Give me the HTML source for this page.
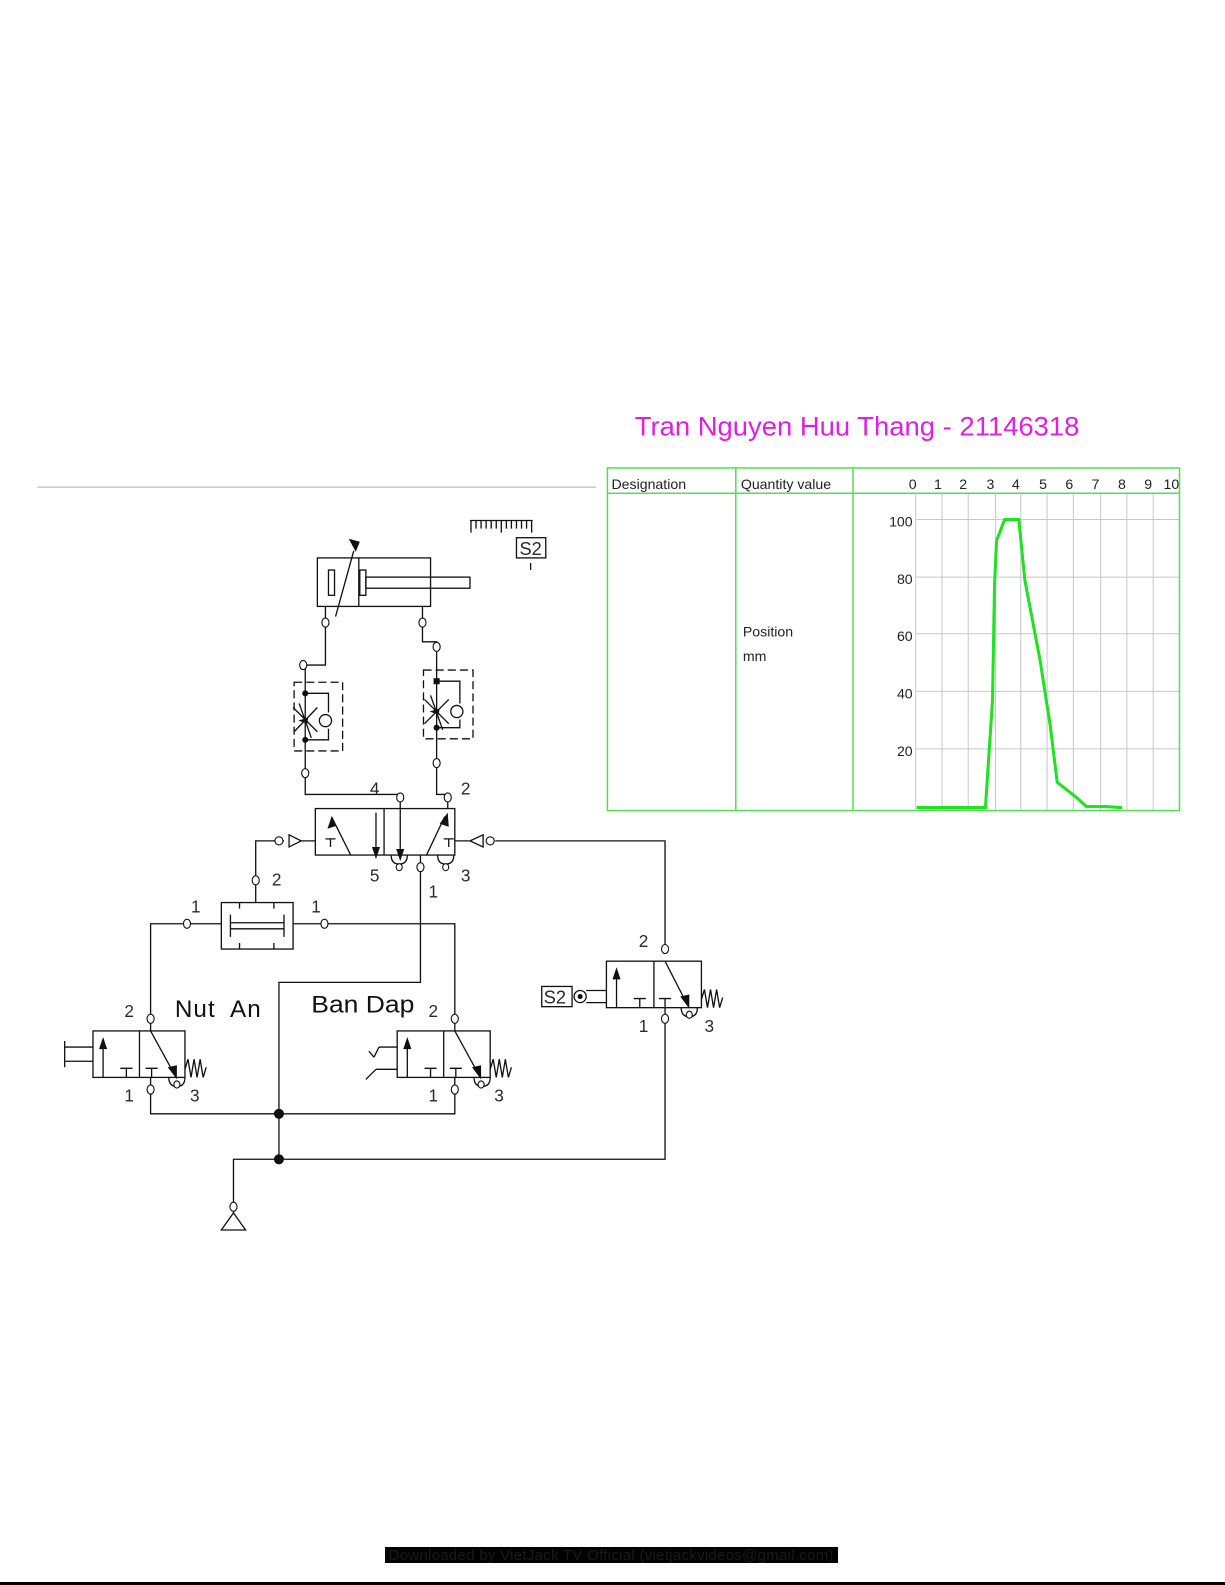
<!DOCTYPE html>
<html><head><meta charset="utf-8"><style>
html,body{margin:0;padding:0;background:#fff;}
svg{display:block;}
text{font-family:"Liberation Sans",Arial,sans-serif;}
</style></head><body>
<svg width="1225" height="1585" viewBox="0 0 1225 1585" xmlns="http://www.w3.org/2000/svg">
<rect width="1225" height="1585" fill="#fff"/>
<g transform="scale(1.0107)">
<line x1="37" y1="482" x2="590" y2="482" stroke="#aaa" stroke-width="1"/>
<text x="628" y="431" font-size="27" fill="#e020e0" textLength="440" lengthAdjust="spacingAndGlyphs">Tran Nguyen Huu Thang - 21146318</text>

<g stroke="#c8c8c8" stroke-width="1">
<line x1="906" y1="488" x2="906" y2="802"/><line x1="932" y1="488" x2="932" y2="802"/><line x1="958" y1="488" x2="958" y2="802"/><line x1="985" y1="488" x2="985" y2="802"/><line x1="1010" y1="488" x2="1010" y2="802"/><line x1="1036" y1="488" x2="1036" y2="802"/><line x1="1062" y1="488" x2="1062" y2="802"/><line x1="1089" y1="488" x2="1089" y2="802"/><line x1="1115" y1="488" x2="1115" y2="802"/><line x1="1141" y1="488" x2="1141" y2="802"/>
<line x1="906" y1="514" x2="1167" y2="514"/><line x1="906" y1="571" x2="1167" y2="571"/><line x1="906" y1="627" x2="1167" y2="627"/><line x1="906" y1="684" x2="1167" y2="684"/><line x1="906" y1="741" x2="1167" y2="741"/>
</g>
<g stroke="#55dd55" stroke-width="1.5" fill="none">
<rect x="601" y="463" width="566" height="339"/>
<line x1="601" y1="488" x2="1167" y2="488"/>
<line x1="728" y1="463" x2="728" y2="802"/>
<line x1="844" y1="463" x2="844" y2="802"/>
</g>
<g font-size="14" fill="#222">
<text x="605" y="484">Designation</text>
<text x="733" y="484">Quantity value</text>
<text x="735" y="630">Position</text>
<text x="735" y="654">mm</text>
</g>
<g font-size="14" fill="#222" text-anchor="middle">
<text x="903" y="484">0</text><text x="928" y="484">1</text><text x="953" y="484">2</text><text x="980" y="484">3</text><text x="1005" y="484">4</text><text x="1032" y="484">5</text><text x="1058" y="484">6</text><text x="1084" y="484">7</text><text x="1110" y="484">8</text><text x="1136" y="484">9</text><text x="1159" y="484">10</text>
</g>
<g font-size="14" fill="#222" text-anchor="end">
<text x="903" y="521">100</text><text x="903" y="578">80</text><text x="903" y="634">60</text><text x="903" y="691">40</text><text x="903" y="748">20</text>
</g>
<polyline points="907,799 975,799 982,693 984,579 986,535 994,514 1008,514 1014,574 1029,653 1039,717 1046,774 1065,789 1075,798 1092,798 1110,799" fill="none" stroke="#22e022" stroke-width="3"/>

<g stroke="#111" stroke-width="1.3" fill="none">
<line x1="465" y1="515" x2="527" y2="515"/>
<path d="M466 515v12 M471 515v8 M476 515v8 M481 515v8 M486 515v8 M491 515v8 M496 515v12 M501 515v8 M506 515v8 M511 515v8 M516 515v8 M521 515v8 M526 515v12"/>
<rect x="511" y="532" width="29" height="20"/>
<line x1="525" y1="557" x2="525" y2="564"/>
<rect x="314" y="552" width="112" height="48"/>
<line x1="355" y1="552" x2="355" y2="600"/>
<rect x="325" y="564" width="6" height="25"/>
<rect x="356" y="564" width="6" height="25"/>
<rect x="362" y="571" width="103" height="11"/>
<line x1="332" y1="610" x2="350" y2="545"/>
<path d="M322 600V658H302V786H396V800"/>
<path d="M418 600V635H432V786H443V800"/>
<rect x="291" y="675" width="48" height="68" stroke-dasharray="8,4"/>
<path d="M302 686H325V705 M325 721V732H302"/>
<circle cx="322" cy="713" r="6"/>
<path d="M290 700L314 724 M291 724L314 700 M296 696L308 730"/>
<rect x="419" y="663" width="49" height="68" stroke-dasharray="8,4"/>
<path d="M432 674H455V696 M455 712V720H432"/>
<circle cx="452" cy="704" r="6"/>
<path d="M420 692L444 716 M420 716L444 692 M426 688L438 722"/>
<rect x="312" y="800" width="138" height="46"/>
<line x1="380" y1="800" x2="380" y2="846"/>
<path d="M322 830h10 M327 830v8 M439 830h10 M444 830v8"/>
<line x1="347" y1="846" x2="328" y2="808"/>
<line x1="372" y1="804" x2="372" y2="840"/>
<line x1="396" y1="800" x2="396" y2="840"/>
<line x1="422" y1="846" x2="440" y2="808"/>
<path d="M387 846q0 9 8 9q8 0 8-9 M433 846q0 9 8 9q8 0 8-9"/>
<path d="M312 832H298 M286 826L298 832L286 838Z"/>
<path d="M281 832H253V893"/>
<path d="M450 832H465 M478 826L465 832L478 838Z M490 832H658V939"/>
<path d="M416 846V972H276V1147"/>
<rect x="219" y="893" width="71" height="46"/>
<path d="M228 913H281 M228 919H281 M228 905V927 M281 905V927 M237 893V899 M271 893V899 M237 933V939 M271 933V939"/>
<path d="M219 914H149V1020 M290 914H450V1020"/>
<rect x="92" y="1020" width="91" height="46"/>
<line x1="138" y1="1020" x2="138" y2="1066"/>
<line x1="102" y1="1066" x2="102" y2="1030"/>
<path d="M119 1057h12 M125 1057v9 M144 1057h12 M150 1057v9"/>
<line x1="149" y1="1020" x2="172" y2="1062"/>
<path d="M167 1066q0 9 8 9q8 0 8-9"/>
<path d="M183 1058l3-10 3 18 3-18 3 18 3-18 3 18 3-10"/>
<path d="M92 1036H64 M92 1050H64 M64 1030V1056"/>
<rect x="393" y="1020" width="92" height="46"/>
<line x1="439" y1="1020" x2="439" y2="1066"/>
<line x1="403" y1="1066" x2="403" y2="1030"/>
<path d="M420 1057h12 M426 1057v9 M445 1057h12 M451 1057v9"/>
<line x1="450" y1="1020" x2="473" y2="1062"/>
<path d="M469 1066q0 9 8 9q8 0 8-9"/>
<path d="M485 1058l3-10 3 18 3-18 3 18 3-18 3 18 3-10"/>
<path d="M393 1036H375 M393 1058H372 M372 1058L362 1068 M375 1036L370 1046 M370 1046L365 1040"/>
<rect x="600" y="951" width="94" height="46"/>
<line x1="647" y1="951" x2="647" y2="997"/>
<line x1="610" y1="997" x2="610" y2="961"/>
<path d="M627 988h12 M633 988v9 M652 988h12 M658 988v9"/>
<line x1="658" y1="951" x2="679" y2="992"/>
<path d="M674 997q0 9 8 9q8 0 8-9"/>
<path d="M694 989l3-10 3 18 3-18 3 18 3-18 3 18 3-10"/>
<path d="M580 980H600 M580 992H600"/>
<circle cx="574" cy="986" r="6"/>
<rect x="536" y="976" width="30" height="20"/>
<path d="M149 1066V1102H450V1066"/>
<path d="M658 997V1147H231V1200"/>
<path d="M231 1200L219 1217H243Z"/>
</g>
<g fill="#111" stroke="none">
<path d="M345 533L356 536L352 546Z"/>
<path d="M328 808L324 820L333 817Z"/>
<path d="M372 850L368 838L376 838Z"/>
<path d="M396 852L392 840L400 840Z"/>
<path d="M443 804L435 815L444 818Z"/>
<path d="M102 1026L98 1038L106 1038Z"/>
<path d="M403 1026L399 1038L407 1038Z"/>
<path d="M610 957L606 969L614 969Z"/>
<path d="M175 1068L166 1056L175 1054Z"/>
<path d="M476 1068L467 1056L476 1054Z"/>
<path d="M682 998L673 986L682 984Z"/>
<circle cx="302" cy="686" r="3"/><circle cx="302" cy="732" r="3"/>
<rect x="429" y="671" width="6" height="6"/><circle cx="432" cy="720" r="3"/>
<path d="M295 713L305 710L304 716Z"/><path d="M425 704L435 701L434 707Z"/>
<circle cx="276" cy="1102" r="5"/><circle cx="276" cy="1147" r="5"/>
<circle cx="574" cy="986" r="2.5"/>
</g>
<g fill="#fff" stroke="#111" stroke-width="1.1">
<ellipse cx="322" cy="616" rx="3.5" ry="4.5"/><ellipse cx="418" cy="616" rx="3.5" ry="4.5"/>
<ellipse cx="300" cy="658" rx="3.5" ry="4.5"/><ellipse cx="302" cy="765" rx="3.5" ry="4.5"/>
<ellipse cx="432" cy="640" rx="3.5" ry="4.5"/><ellipse cx="432" cy="755" rx="3.5" ry="4.5"/>
<ellipse cx="396" cy="789" rx="3.5" ry="4.5"/><ellipse cx="443" cy="789" rx="3.5" ry="4.5"/>
<ellipse cx="395" cy="858" rx="3" ry="3.5"/><ellipse cx="441" cy="858" rx="3" ry="3.5"/>
<ellipse cx="416" cy="858" rx="3.5" ry="4.5"/>
<ellipse cx="276" cy="832" rx="4" ry="4"/><ellipse cx="485" cy="832" rx="4" ry="4"/>
<ellipse cx="253" cy="871" rx="3.5" ry="4.5"/>
<ellipse cx="185" cy="914" rx="3.5" ry="4.5"/><ellipse cx="321" cy="914" rx="3.5" ry="4.5"/>
<ellipse cx="149" cy="1008" rx="3.5" ry="4.5"/><ellipse cx="450" cy="1008" rx="3.5" ry="4.5"/>
<ellipse cx="149" cy="1078" rx="3.5" ry="4.5"/><ellipse cx="450" cy="1078" rx="3.5" ry="4.5"/>
<ellipse cx="175" cy="1073" rx="3" ry="3.5"/><ellipse cx="476" cy="1073" rx="3" ry="3.5"/>
<ellipse cx="658" cy="939" rx="3.5" ry="4.5"/><ellipse cx="658" cy="1008" rx="3.5" ry="4.5"/>
<ellipse cx="682" cy="1004" rx="3" ry="3.5"/>
<ellipse cx="231" cy="1194" rx="3.5" ry="4.5"/>
</g>
<g font-size="17" fill="#2a2a2a">
<text x="514" y="549" font-size="18">S2</text>
<text x="538" y="993" font-size="18">S2</text>
<text x="366" y="786">4</text><text x="456" y="786">2</text>
<text x="366" y="872">5</text><text x="456" y="872">3</text>
<text x="424" y="888">1</text>
<text x="269" y="876">2</text>
<text x="189" y="903">1</text><text x="308" y="903">1</text>
<text x="123" y="1006">2</text><text x="424" y="1006">2</text>
<text x="123" y="1090">1</text><text x="188" y="1090">3</text>
<text x="424" y="1090">1</text><text x="489" y="1090">3</text>
<text x="632" y="937">2</text><text x="632" y="1021">1</text><text x="697" y="1021">3</text>
</g>
<text x="173" y="1006" font-size="24" fill="#111" textLength="85" lengthAdjust="spacing" xml:space="preserve">Nut  An</text>
<text x="308" y="1002" font-size="24" fill="#111" textLength="102" lengthAdjust="spacingAndGlyphs">Ban Dap</text>
</g>
<rect x="385" y="1547" width="453" height="16" fill="#000"/>
<text x="611" y="1560" font-size="15" fill="#1a1a1a" text-anchor="middle" textLength="445">Downloaded by VietJack TV Official (vietjackvideos@gmail.com)</text>
<rect x="0" y="1582" width="1225" height="3" fill="#000"/>
</svg>
</body></html>
